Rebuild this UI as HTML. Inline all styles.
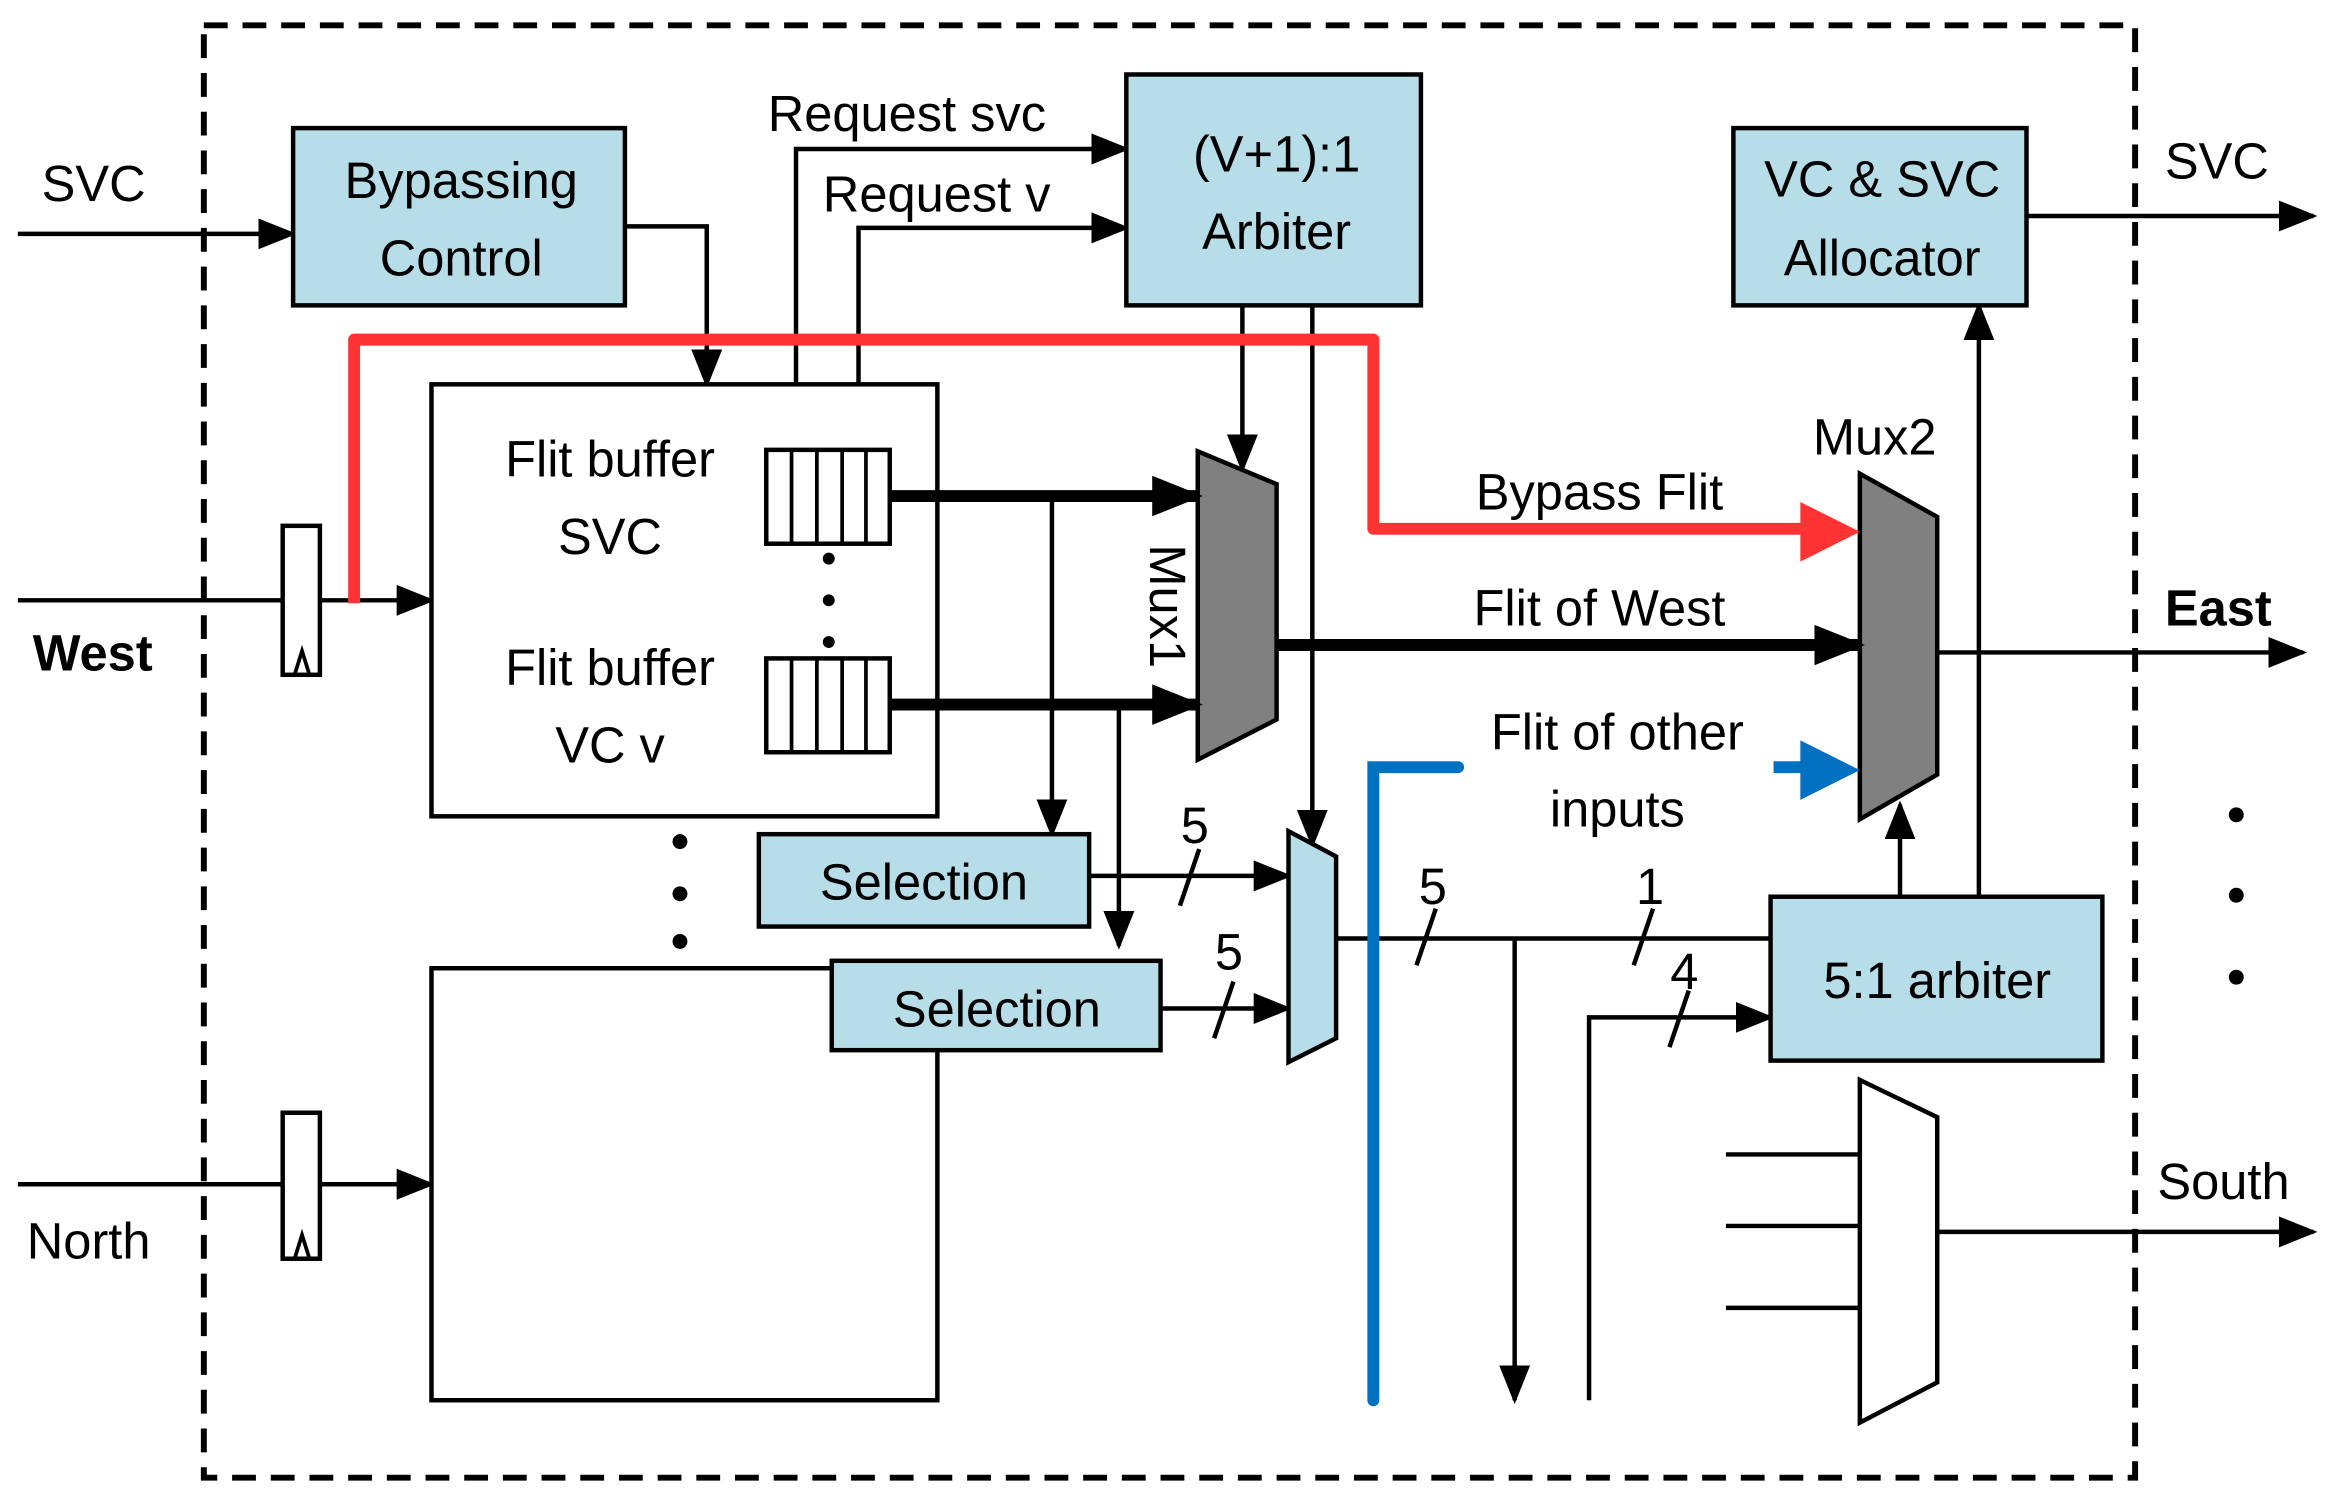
<!DOCTYPE html>
<html><head><meta charset="utf-8"><style>
html,body{margin:0;padding:0;background:#fff}
svg{display:block}
text{font-family:"Liberation Sans",sans-serif;font-size:34px;fill:#000}
</style></head><body>
<svg width="2333" height="1506" viewBox="0 0 1568 1011" preserveAspectRatio="none" xmlns="http://www.w3.org/2000/svg">
<defs>
<marker id="as" viewBox="0 0 10 8" refX="9" refY="4" markerWidth="26" markerHeight="24" orient="auto" markerUnits="userSpaceOnUse"><path d="M0,0 L10,4 L0,8 z" fill="#000"/></marker>
<marker id="ab" viewBox="0 0 10 8" refX="9" refY="4" markerWidth="34" markerHeight="30" orient="auto" markerUnits="userSpaceOnUse"><path d="M0,0 L10,4 L0,8 z" fill="#000"/></marker>
</defs>
<rect x="137" y="17" width="1298" height="975" fill="none" stroke="#000" stroke-width="4" stroke-dasharray="16,10"/>
<g stroke="#000" stroke-width="3" fill="none">
<line x1="12" y1="157" x2="197" y2="157" marker-end="url(#as)"/>
<polyline points="420,152 475,152 475,258" marker-end="url(#as)"/>
<polyline points="535,258 535,100 757,100" marker-end="url(#as)"/>
<polyline points="577,258 577,153 757,153" marker-end="url(#as)"/>
<line x1="835" y1="205" x2="835" y2="315" marker-end="url(#as)"/>
<line x1="882" y1="205" x2="882" y2="567" marker-end="url(#as)"/>
<line x1="12" y1="403" x2="190" y2="403"/>
<line x1="215" y1="403" x2="290" y2="403" marker-end="url(#as)"/>
<line x1="12" y1="795" x2="190" y2="795"/>
<line x1="215" y1="795" x2="290" y2="795" marker-end="url(#as)"/>
<line x1="707" y1="333" x2="707" y2="560" marker-end="url(#as)"/>
<line x1="752" y1="473" x2="752" y2="635" marker-end="url(#as)"/>
<line x1="732" y1="588" x2="866" y2="588" marker-end="url(#as)"/>
<line x1="780" y1="677" x2="866" y2="677" marker-end="url(#as)"/>
<line x1="898" y1="630" x2="1190" y2="630"/>
<line x1="1018" y1="630" x2="1018" y2="940" marker-end="url(#as)"/>
<polyline points="1068,940 1068,683 1190,683" marker-end="url(#as)"/>
<line x1="1277" y1="602" x2="1277" y2="540" marker-end="url(#as)"/>
<line x1="1330" y1="602" x2="1330" y2="205" marker-end="url(#as)"/>
<line x1="1302" y1="438" x2="1548" y2="438" marker-end="url(#as)"/>
<line x1="1362" y1="145" x2="1555" y2="145" marker-end="url(#as)"/>
<line x1="1302" y1="827" x2="1555" y2="827" marker-end="url(#as)"/>
<line x1="1160" y1="775" x2="1250" y2="775"/>
<line x1="1160" y1="823" x2="1250" y2="823"/>
<line x1="1160" y1="878" x2="1250" y2="878"/>
<line x1="793" y1="608" x2="806" y2="570"/>
<line x1="816" y1="697" x2="829" y2="659"/>
<line x1="952" y1="648" x2="965" y2="610"/>
<line x1="1098" y1="648" x2="1111" y2="610"/>
<line x1="1122" y1="703" x2="1135" y2="665"/>
</g>
<g stroke="#000" stroke-width="3">
<rect x="197" y="86" width="223" height="119" fill="#b7dde8"/>
<rect x="757" y="50" width="198" height="155" fill="#b7dde8"/>
<rect x="1165" y="86" width="197" height="119" fill="#b7dde8"/>
<rect x="290" y="258" width="340" height="290" fill="#fff"/>
<rect x="290" y="650" width="340" height="290" fill="#fff"/>
<rect x="510" y="560" width="222" height="62" fill="#b7dde8"/>
<rect x="559" y="645" width="221" height="60" fill="#b7dde8"/>
<rect x="1190" y="602" width="223" height="110" fill="#b7dde8"/>
<rect x="190" y="353" width="25" height="100" fill="#fff"/>
<rect x="190" y="747" width="25" height="98" fill="#fff"/>
<rect x="515" y="302" width="83" height="63" fill="#fff"/>
<rect x="515" y="442" width="83" height="63" fill="#fff"/>
<polygon points="805,303 858,325 858,483 805,510" fill="#808080"/>
<polygon points="1250,318 1302,347 1302,520 1250,550" fill="#808080"/>
<polygon points="866,558 898,575 898,697 866,713" fill="#b7dde8"/>
<polygon points="1250,725 1302,750 1302,928 1250,955" fill="#fff"/>
</g>
<g stroke="#000" stroke-width="2.5">
<line x1="532" y1="302" x2="532" y2="365"/><line x1="549" y1="302" x2="549" y2="365"/><line x1="566" y1="302" x2="566" y2="365"/><line x1="582" y1="302" x2="582" y2="365"/>
<line x1="532" y1="442" x2="532" y2="505"/><line x1="549" y1="442" x2="549" y2="505"/><line x1="566" y1="442" x2="566" y2="505"/><line x1="582" y1="442" x2="582" y2="505"/>
<polyline points="198,453 203,437 208,453" fill="none"/>
<polyline points="198,845 203,829 208,845" fill="none"/>
</g>
<g stroke="#000" stroke-width="8" fill="none">
<line x1="598" y1="333" x2="805" y2="333" marker-end="url(#ab)"/>
<line x1="598" y1="473" x2="805" y2="473" marker-end="url(#ab)"/>
<line x1="858" y1="433" x2="1250" y2="433" marker-end="url(#ab)"/>
</g>
<polyline points="238,405 238,228 923,228 923,355 1215,355" stroke="#ff3333" stroke-width="8" fill="none" stroke-linejoin="round"/>
<path d="M1210,337 L1250,357 L1210,377 z" fill="#ff3333"/>
<polyline points="923,940 923,515 980,515" stroke="#0070c0" stroke-width="8" fill="none" stroke-linecap="round"/>
<line x1="1192" y1="515" x2="1215" y2="515" stroke="#0070c0" stroke-width="8"/>
<path d="M1210,497 L1250,517 L1210,537 z" fill="#0070c0"/>
<g fill="#000">
<circle cx="557" cy="375" r="4"/><circle cx="557" cy="403" r="4"/><circle cx="557" cy="431" r="4"/>
<circle cx="457" cy="565" r="5"/><circle cx="457" cy="600" r="5"/><circle cx="457" cy="632" r="5"/>
<circle cx="1503" cy="547" r="5"/><circle cx="1503" cy="601" r="5"/><circle cx="1503" cy="656" r="5"/>
</g>
<g text-anchor="middle">
<text x="310" y="133">Bypassing</text><text x="310" y="185">Control</text>
<text x="858" y="115">(V+1):1</text><text x="858" y="167">Arbiter</text>
<text x="1265" y="132">VC &amp; SVC</text><text x="1265" y="185">Allocator</text>
<text x="410" y="320">Flit buffer</text><text x="410" y="372">SVC</text>
<text x="410" y="460">Flit buffer</text><text x="410" y="512">VC v</text>
<text x="621" y="604">Selection</text><text x="670" y="689">Selection</text>
<text x="1302" y="670">5:1 arbiter</text>
<text x="1075" y="342">Bypass Flit</text>
<text x="1075" y="420">Flit of West</text>
<text x="1087" y="503">Flit of other</text><text x="1087" y="555">inputs</text>
<text x="1260" y="305">Mux2</text>
<text x="803" y="566">5</text><text x="826" y="651">5</text><text x="963" y="607">5</text><text x="1109" y="607">1</text><text x="1132" y="664">4</text>
</g>
<text x="28" y="135">SVC</text>
<text x="22" y="450" font-weight="bold">West</text>
<text x="18" y="845">North</text>
<text x="516" y="88">Request svc</text>
<text x="553" y="142">Request v</text>
<text x="1455" y="120">SVC</text>
<text x="1455" y="420" font-weight="bold">East</text>
<text x="1450" y="805">South</text>
<text x="773" y="407" transform="rotate(90 773 407)" text-anchor="middle">Mux1</text>
</svg>
</body></html>
